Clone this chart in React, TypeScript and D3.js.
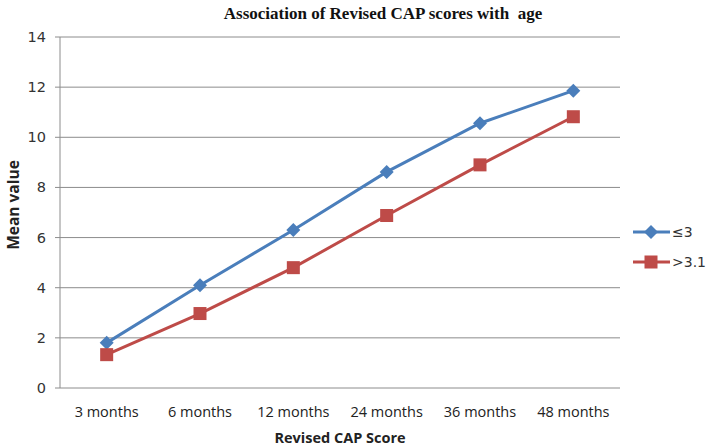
import React from "react";
import * as d3 from "d3";

const categories = ["3 months", "6 months", "12 months", "24 months", "36 months", "48 months"];
const seriesA = [1.8, 4.1, 6.3, 8.62, 10.56, 11.86];
const seriesB = [1.33, 2.97, 4.8, 6.88, 8.9, 10.82];
const yTicks = [0, 2, 4, 6, 8, 10, 12, 14];
const seriesNames = ["≤3", ">3.1"];

const W = 708, H = 448;
const left = 60, right = 620, top = 37, bottom = 388;

export default function App() {
  const x = d3.scaleBand<string>().domain(categories).range([left, right]);
  const y = d3.scaleLinear().domain([0, 14]).range([bottom, top]);
  const cx = (c: string) => (x(c) as number) + x.bandwidth() / 2;
  const line = d3.line<number>().x((_, i) => cx(categories[i])).y((v) => y(v));
  const blue = "#4A7EBB", red = "#BE4B48";
  const diamond = (px: number, py: number, r = 7) => `M${px},${py - r}L${px + r},${py}L${px},${py + r}L${px - r},${py}Z`;
  return (
    <svg width={W} height={H} style={{ position: "absolute", left: 0, top: 0, background: "#fff" }}>
      <text x={383} y={19} textAnchor="middle" fontFamily="Liberation Serif, serif" fontWeight="bold" fontSize={17} fill="#111" style={{ whiteSpace: "pre" }}>
        {"Association of Revised CAP scores with  age"}
      </text>
      {yTicks.map((t) => (
        <g key={t}>
          <line x1={left - 5} x2={right} y1={y(t)} y2={y(t)} stroke="#8c8c8c" strokeWidth={1} />
          <text x={46} y={y(t) + 5} textAnchor="end" fontFamily="DejaVu Sans, sans-serif" fontSize={14.5} fill="#333">{t}</text>
        </g>
      ))}
      <line x1={left} x2={left} y1={top} y2={bottom} stroke="#8c8c8c" strokeWidth={1} />
      {categories.map((c) => (
        <text key={c} x={cx(c)} y={417} textAnchor="middle" fontFamily="Open Sans, sans-serif" fontSize={14.5} fill="#222">{c}</text>
      ))}
      <text x={340} y={443} textAnchor="middle" fontFamily="Open Sans, sans-serif" fontWeight="bold" fontSize={14.5} fill="#222">Revised CAP Score</text>
      <text transform={`translate(19,205) rotate(-90)`} textAnchor="middle" fontFamily="Open Sans, sans-serif" fontWeight="bold" fontSize={15.5} fill="#222">Mean value</text>
      <path d={line(seriesB) || ""} fill="none" stroke={red} strokeWidth={3} />
      <path d={line(seriesA) || ""} fill="none" stroke={blue} strokeWidth={3} />
      {seriesA.map((v, i) => (
        <path key={"a" + i} d={diamond(cx(categories[i]), y(v))} fill={blue} />
      ))}
      {seriesB.map((v, i) => (
        <rect key={"b" + i} x={cx(categories[i]) - 6.5} y={y(v) - 6.5} width={13} height={13} fill={red} />
      ))}
      <line x1={633} x2={670} y1={232} y2={232} stroke={blue} strokeWidth={3} />
      <path d={diamond(651, 232)} fill={blue} />
      <text x={672} y={237} fontFamily="DejaVu Sans, sans-serif" fontSize={14} fill="#333">{seriesNames[0]}</text>
      <line x1={633} x2={670} y1={262} y2={262} stroke={red} strokeWidth={3} />
      <rect x={644.5} y={255.5} width={13} height={13} fill={red} />
      <text x={672} y={267} fontFamily="DejaVu Sans, sans-serif" fontSize={14} fill="#333">{seriesNames[1]}</text>
    </svg>
  );
}
